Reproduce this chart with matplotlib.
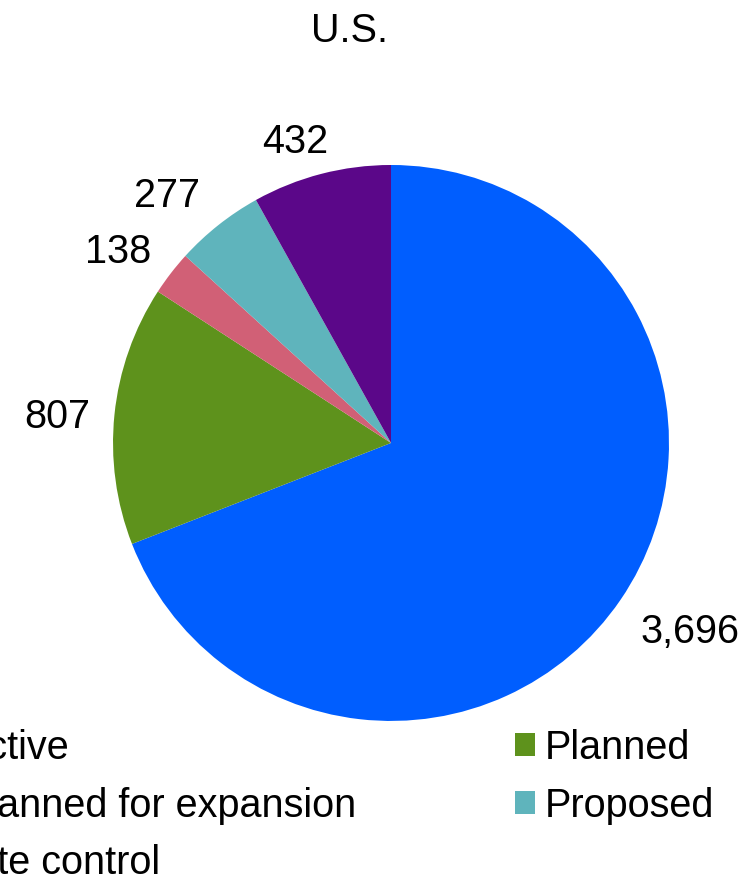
import numpy as np
import matplotlib.pyplot as plt

# status counts, U.S.
categories = ['Active', 'Planned', 'Planned for expansion', 'Proposed', 'Site control']
values = [3696, 807, 138, 277, 432]
colors = ['#005EFF', '#5E921C', '#D16076', '#5FB4BC', '#5B0789']
title = 'U.S.'

plt.rcParams['font.family'] = ['Liberation Sans', 'DejaVu Sans']
FS = 28.5

fig = plt.figure(figsize=(7.56, 8.77), dpi=100)
ax = fig.add_axes([0.1495, 0.1779, 0.7354, 0.634])

labels = [f'{v:,}' for v in values]
wedges, texts = ax.pie(values, labels=labels, colors=colors, startangle=90,
                       counterclock=False, labeldistance=1.21,
                       textprops={'fontsize': FS})

# label placement tweaks (radius, extra degrees) to mimic the original layout
label_dist = [1.265, 1.206, 1.207, 1.21, 1.15]
label_rot = [2.6, 0.7, 2.1, 3.3, 3.0]
for t, d, rot in zip(texts, label_dist, label_rot):
    x, y = t.get_position()
    a = np.arctan2(y, x) + np.deg2rad(rot)
    t.set_position((d * np.cos(a), d * np.sin(a)))
    t.set_ha('center')
    t.set_va('center_baseline')

ax.set_xlim(-1, 1)
ax.set_ylim(-1, 1)
ax.set_aspect('equal')

fig.text(350 / 756, 1 - 27 / 877, title, fontsize=FS, ha='center',
         va='center_baseline')

# legend: column-major order as in the original (left part is cropped off)
order = [0, 2, 4, 1, 3]
fig.legend([wedges[i] for i in order], [categories[i] for i in order],
           ncol=2, loc='upper left', bbox_to_anchor=(-0.089, 0.169),
           bbox_transform=fig.transFigure, frameon=False, fontsize=FS,
           borderpad=0, borderaxespad=0, handlelength=0.5, handleheight=0.5,
           handletextpad=0.25, labelspacing=0.5, columnspacing=4.0)

fig.savefig('out.png', dpi=100)
